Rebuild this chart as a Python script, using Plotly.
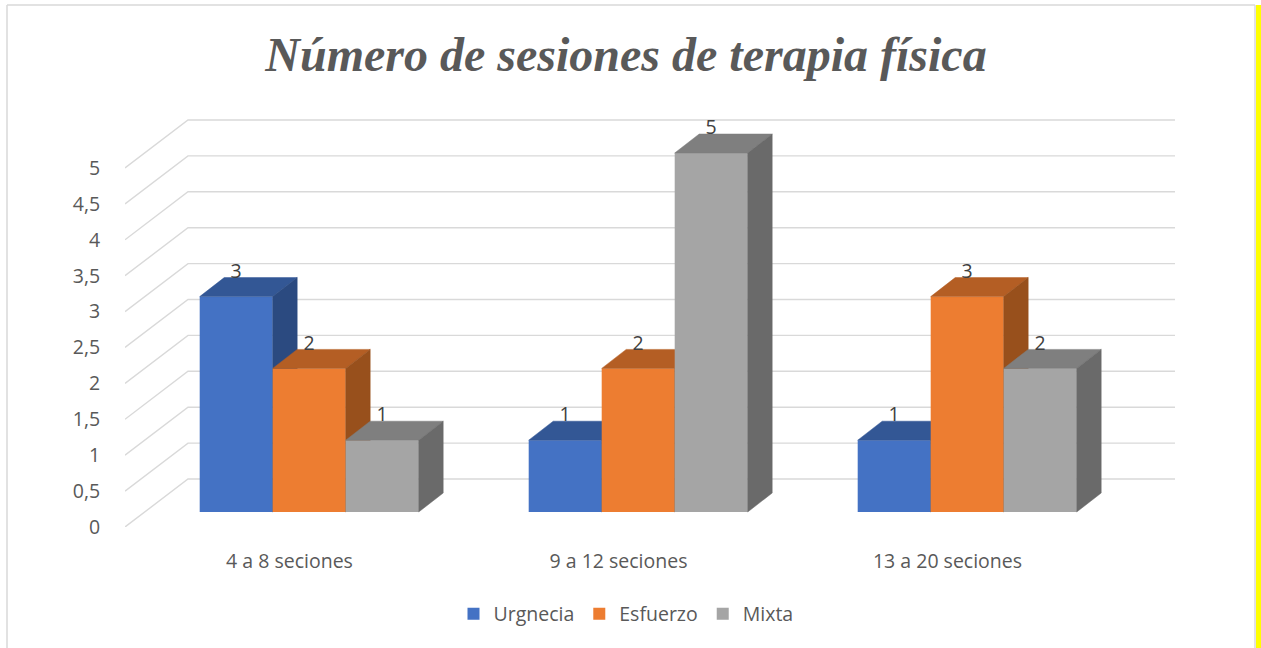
import plotly.graph_objects as go

# ---------------- data ----------------
categories = ["4 a 8 seciones", "9 a 12 seciones", "13 a 20 seciones"]
series_names = ["Urgnecia", "Esfuerzo", "Mixta"]
urgnecia = [3, 1, 1]
esfuerzo = [2, 2, 3]
mixta = [1, 5, 2]
y_ticks = [0, 0.5, 1, 1.5, 2, 2.5, 3, 3.5, 4, 4.5, 5]
title_text = "Número de sesiones de terapia física"

series_values = [urgnecia, esfuerzo, mixta]

# ---------------- styles / geometry ----------------
front_colors = ["#4472C4", "#ED7D31", "#A5A5A5"]
top_colors = ["#335795", "#B45E24", "#7F7F7F"]
side_colors = ["#2B4A80", "#98501C", "#6A6A6A"]
text_color = "#595959"
grid_color = "#D9D9D9"
FONT = "Open Sans"
FS = 19.5

W, H = 1261, 648
L, R, T, B = 125, 81, 90, 121
PX_X = 329.0   # pixels per category
PX_Y = 71.8    # pixels per value unit
plot_w = W - L - R
plot_h = H - T - B
x_rng = [-0.5, -0.5 + plot_w / PX_X]
y_rng = [0, plot_h / PX_Y]

# bar plane shift relative to front plane (perspective depth)
sx, sy = 19.7 / PX_X, 15.0 / PX_Y
# back wall offset relative to front plane
wx, wy = 63.0 / PX_X, 48.0 / PX_Y
wall_end = (1175 - L) / PX_X - 0.5
# bar depth (top / side faces)
dx, dy = 24.5 / PX_X, 19.0 / PX_Y
bw = 73.0 / PX_X
label_shift = -5.0 / PX_Y

fig = go.Figure()

# ---- gridlines (side wall diagonals + back wall horizontals) ----
gx, gy = [], []
for v in y_ticks:
    gx += [x_rng[0], x_rng[0] + wx, wall_end, None]
    gy += [v, v + wy, v + wy, None]
fig.add_trace(go.Scatter(x=gx, y=gy, mode="lines",
                         line=dict(color=grid_color, width=1.4),
                         hoverinfo="skip", showlegend=False))

# ---- 3D bars ----
n = len(categories)
for s, (name, vals) in enumerate(zip(series_names, series_values)):
    off = -1.5 * bw + s * bw
    fig.add_trace(go.Bar(
        x=list(range(n)), y=vals, name=name, width=bw, offset=off,
        marker=dict(color=front_colors[s], line=dict(width=0)),
        xaxis="x2", yaxis="y2", zorder=s + 1))
    tx, ty, sxs, sys_ = [], [], [], []
    for i, v in enumerate(vals):
        xl = i + off
        xr = xl + bw
        tx += [xl, xr, xr + dx, xl + dx, xl, None]
        ty += [v, v, v + dy, v + dy, v, None]
        sxs += [xr, xr + dx, xr + dx, xr, xr, None]
        sys_ += [0, dy, v + dy, v, 0, None]
    fig.add_trace(go.Scatter(x=tx, y=ty, mode="lines", fill="toself",
                             fillcolor=top_colors[s],
                             line=dict(color=top_colors[s], width=0.5),
                             xaxis="x2", yaxis="y2", zorder=s + 1,
                             hoverinfo="skip", showlegend=False))
    fig.add_trace(go.Scatter(x=sxs, y=sys_, mode="lines", fill="toself",
                             fillcolor=side_colors[s],
                             line=dict(color=side_colors[s], width=0.5),
                             xaxis="x2", yaxis="y2", zorder=s + 1,
                             hoverinfo="skip", showlegend=False))
    # data labels
    fig.add_trace(go.Scatter(
        x=[i + off + bw / 2 for i in range(n)],
        y=[v + dy + label_shift for v in vals],
        text=[str(v) for v in vals], mode="text", textposition="top center",
        textfont=dict(family=FONT, size=FS, color="#404040"),
        xaxis="x2", yaxis="y2", zorder=10,
        hoverinfo="skip", showlegend=False))

def px_to_paper_x(px):
    return (px - L) / plot_w

def px_to_paper_y(py):
    return (H - B - py) / plot_h

shapes = [
    dict(type="line", xref="paper", yref="paper",
         x0=px_to_paper_x(7), x1=px_to_paper_x(1255),
         y0=px_to_paper_y(5), y1=px_to_paper_y(5),
         line=dict(color="#D9D9D9", width=1.5)),
    dict(type="line", xref="paper", yref="paper",
         x0=px_to_paper_x(7), x1=px_to_paper_x(7),
         y0=px_to_paper_y(5), y1=px_to_paper_y(660),
         line=dict(color="#D9D9D9", width=1.5)),
    dict(type="line", xref="paper", yref="paper",
         x0=px_to_paper_x(1255), x1=px_to_paper_x(1255),
         y0=px_to_paper_y(5), y1=px_to_paper_y(660),
         line=dict(color="#D9D9D9", width=1.5)),
    dict(type="rect", xref="paper", yref="paper",
         x0=px_to_paper_x(1256), x1=px_to_paper_x(1262),
         y0=px_to_paper_y(5), y1=px_to_paper_y(660),
         fillcolor="#FFFF00", line=dict(width=0)),
]

fig.update_layout(
    width=W, height=H,
    margin=dict(l=L, r=R, t=T, b=B, autoexpand=False),
    paper_bgcolor="white", plot_bgcolor="rgba(0,0,0,0)",
    separators=",.",
    barmode="overlay",
    showlegend=True,
    title=dict(text="<b><i>" + title_text + "</i></b>",
               font=dict(family="Liberation Serif", size=48, color=text_color),
               x=626 / W, xref="container", xanchor="center",
               y=1 - 54 / H, yref="container", yanchor="middle"),
    xaxis=dict(range=x_rng, tickmode="array", tickvals=list(range(n)),
               ticktext=categories, showgrid=False, zeroline=False,
               showline=False, ticks="outside", ticklen=17,
               tickcolor="rgba(0,0,0,0)",
               tickfont=dict(family=FONT, size=FS, color=text_color),
               fixedrange=True),
    yaxis=dict(range=y_rng, tickmode="array", tickvals=y_ticks,
               showgrid=False, zeroline=False, showline=False,
               ticks="outside", ticklen=20, tickcolor="rgba(0,0,0,0)",
               tickfont=dict(family=FONT, size=FS, color=text_color),
               fixedrange=True),
    xaxis2=dict(range=[x_rng[0] - sx, x_rng[1] - sx], overlaying="x",
                visible=False, fixedrange=True),
    yaxis2=dict(range=[y_rng[0] - sy, y_rng[1] - sy], overlaying="y",
                visible=False, fixedrange=True),
    legend=dict(orientation="h", x=626 / W, xref="container", xanchor="center",
                y=1 - 614 / H, yref="container", yanchor="middle",
                font=dict(family=FONT, size=FS, color=text_color),
                traceorder="normal", itemwidth=30),
    shapes=shapes,
)

fig.write_html("out.html", config={"displayModeBar": False},
               post_script="document.body.style.margin='0px';")
